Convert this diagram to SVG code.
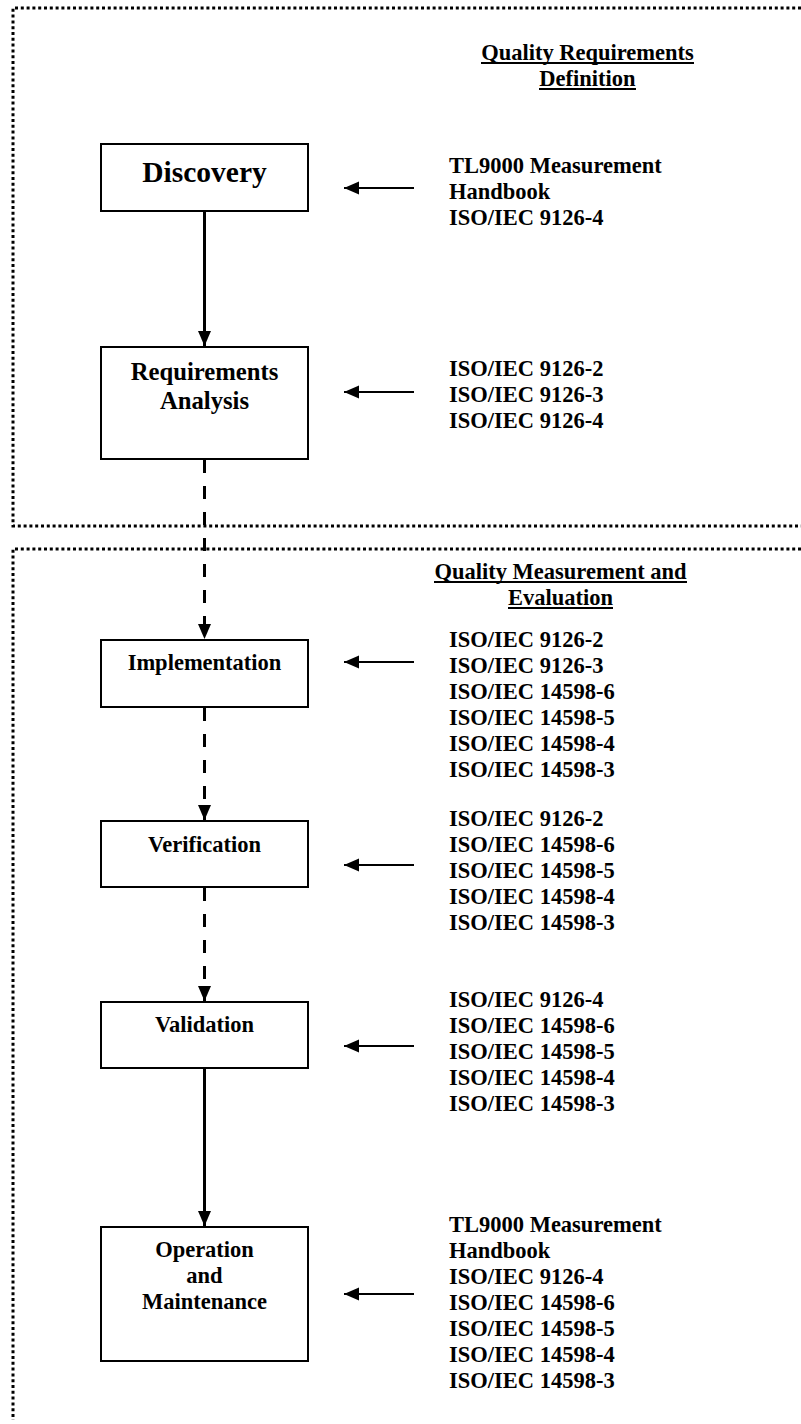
<svg xmlns="http://www.w3.org/2000/svg" width="801" height="1424" viewBox="0 0 801 1424">
<style>
text{font-family:"Liberation Serif","Times New Roman",serif;font-weight:bold;fill:#000;font-size:22.5px}
.c{text-anchor:middle}
.ul{stroke:#000;stroke-width:1.8}
.box{fill:#fff;stroke:#000;stroke-width:2}
.zone{fill:none;stroke:#000;stroke-width:3;stroke-dasharray:3 2.8}
.flow{stroke:#000;stroke-width:3;fill:none}
.dash{stroke-dasharray:13 13}
.side{stroke:#000;stroke-width:2;fill:none}
</style>
<defs>
<marker id="ah" markerUnits="userSpaceOnUse" markerWidth="16" markerHeight="14" refX="15" refY="6.5" orient="auto"><path d="M0,0 L15,6.5 L0,13 z" fill="#000"/></marker>
<marker id="sh" markerUnits="userSpaceOnUse" markerWidth="16" markerHeight="14" refX="15" refY="6.5" orient="auto"><path d="M0,0 L15,6.5 L0,13 z" fill="#000"/></marker>
</defs>

<g id="zones">
<path class="zone" d="M801,8 H13 V526 H801"/>
<path class="zone" d="M801,549 H13 V1420"/>
</g>

<g id="headings">
<text class="c" x="587.5" y="60">Quality Requirements</text>
<line class="ul" x1="481" y1="63" x2="694" y2="63"/>
<text class="c" x="587.5" y="86">Definition</text>
<line class="ul" x1="539" y1="89" x2="636" y2="89"/>
<text class="c" x="560.5" y="579">Quality Measurement and</text>
<line class="ul" x1="434" y1="582" x2="687" y2="582"/>
<text class="c" x="560.5" y="605">Evaluation</text>
<line class="ul" x1="508" y1="608" x2="613" y2="608"/>
</g>

<g id="connectors">
<line class="flow" x1="204.5" y1="212" x2="204.5" y2="346" marker-end="url(#ah)"/>
<line class="flow dash" x1="204.5" y1="460" x2="204.5" y2="639" marker-end="url(#ah)"/>
<line class="flow dash" x1="204.5" y1="708" x2="204.5" y2="820" marker-end="url(#ah)"/>
<line class="flow dash" x1="204.5" y1="888" x2="204.5" y2="1001" marker-end="url(#ah)"/>
<line class="flow" x1="204.5" y1="1069" x2="204.5" y2="1226" marker-end="url(#ah)"/>
<line class="side" x1="414" y1="188" x2="344" y2="188" marker-end="url(#sh)"/>
<line class="side" x1="414" y1="392" x2="344" y2="392" marker-end="url(#sh)"/>
<line class="side" x1="414" y1="662" x2="344" y2="662" marker-end="url(#sh)"/>
<line class="side" x1="414" y1="865" x2="344" y2="865" marker-end="url(#sh)"/>
<line class="side" x1="414" y1="1046" x2="344" y2="1046" marker-end="url(#sh)"/>
<line class="side" x1="414" y1="1294" x2="344" y2="1294" marker-end="url(#sh)"/>
</g>

<g id="discovery">
<rect class="box" x="101" y="144" width="207" height="67"/>
<text class="c" x="204.5" y="182" style="font-size:29.5px">Discovery</text>
</g>
<g id="discovery-refs">
<text x="449" y="173">TL9000 Measurement</text>
<text x="449" y="199">Handbook</text>
<text x="449" y="225">ISO/IEC 9126-4</text>
</g>

<g id="requirements-analysis">
<rect class="box" x="101" y="347" width="207" height="112"/>
<text class="c" x="204.5" y="380" style="font-size:24.7px">Requirements</text>
<text class="c" x="204.5" y="408.5" style="font-size:24.7px">Analysis</text>
</g>
<g id="requirements-analysis-refs">
<text x="449" y="376">ISO/IEC 9126-2</text>
<text x="449" y="402">ISO/IEC 9126-3</text>
<text x="449" y="428">ISO/IEC 9126-4</text>
</g>

<g id="implementation">
<rect class="box" x="101" y="640" width="207" height="67"/>
<text class="c" x="204.5" y="670">Implementation</text>
</g>
<g id="implementation-refs">
<text x="449" y="647">ISO/IEC 9126-2</text>
<text x="449" y="673">ISO/IEC 9126-3</text>
<text x="449" y="699">ISO/IEC 14598-6</text>
<text x="449" y="725">ISO/IEC 14598-5</text>
<text x="449" y="751">ISO/IEC 14598-4</text>
<text x="449" y="777">ISO/IEC 14598-3</text>
</g>

<g id="verification">
<rect class="box" x="101" y="821" width="207" height="66"/>
<text class="c" x="204.5" y="852">Verification</text>
</g>
<g id="verification-refs">
<text x="449" y="826">ISO/IEC 9126-2</text>
<text x="449" y="852">ISO/IEC 14598-6</text>
<text x="449" y="878">ISO/IEC 14598-5</text>
<text x="449" y="904">ISO/IEC 14598-4</text>
<text x="449" y="930">ISO/IEC 14598-3</text>
</g>

<g id="validation">
<rect class="box" x="101" y="1002" width="207" height="66"/>
<text class="c" x="204.5" y="1032">Validation</text>
</g>
<g id="validation-refs">
<text x="449" y="1007">ISO/IEC 9126-4</text>
<text x="449" y="1033">ISO/IEC 14598-6</text>
<text x="449" y="1059">ISO/IEC 14598-5</text>
<text x="449" y="1085">ISO/IEC 14598-4</text>
<text x="449" y="1111">ISO/IEC 14598-3</text>
</g>

<g id="operation-maintenance">
<rect class="box" x="101" y="1227" width="207" height="134"/>
<text class="c" x="204.5" y="1257">Operation</text>
<text class="c" x="204.5" y="1283">and</text>
<text class="c" x="204.5" y="1309">Maintenance</text>
</g>
<g id="operation-maintenance-refs">
<text x="449" y="1232">TL9000 Measurement</text>
<text x="449" y="1258">Handbook</text>
<text x="449" y="1284">ISO/IEC 9126-4</text>
<text x="449" y="1310">ISO/IEC 14598-6</text>
<text x="449" y="1336">ISO/IEC 14598-5</text>
<text x="449" y="1362">ISO/IEC 14598-4</text>
<text x="449" y="1388">ISO/IEC 14598-3</text>
</g>
</svg>
